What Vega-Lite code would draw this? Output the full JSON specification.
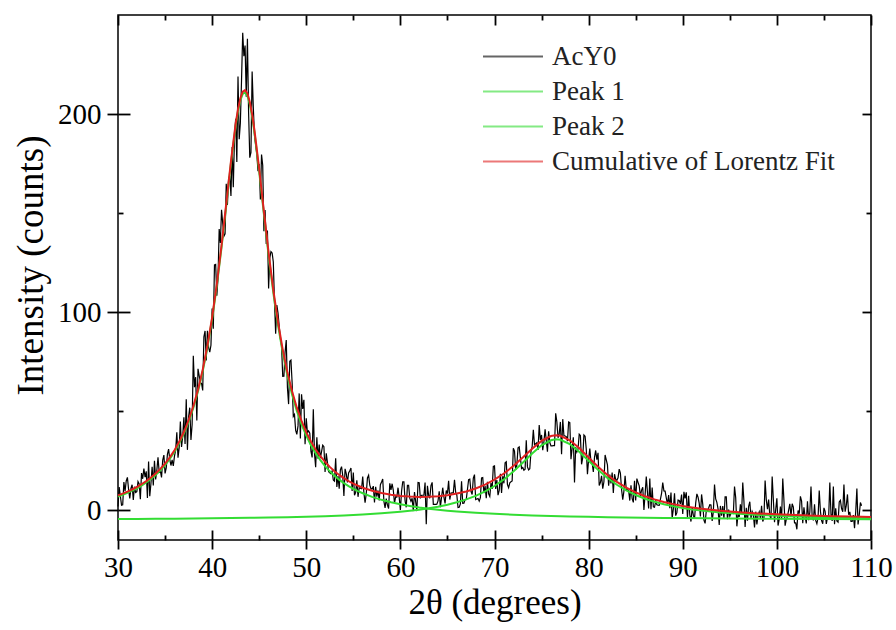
{
"$schema":"https://vega.github.io/schema/vega-lite/v6.json",
"width":753,"height":525,
"autosize":{"type":"none"},
"padding":{"left":118,"top":15,"right":25,"bottom":90},
"background":"white",
"config":{"font":"Liberation Serif","view":{"stroke":"#000","strokeWidth":1.5},"axis":{"grid":false,"domain":false,"tickColor":"#000","labelColor":"#000","titleColor":"#000","tickWidth":1.8,"labelFont":"Liberation Serif","titleFont":"Liberation Serif","titleFontWeight":"normal","labelFlush":false,"labelOverlap":false}},
"datasets":{
"obs":[{"x":30,"y":1.9},{"x":30.25,"y":7.2},{"x":30.5,"y":2.8},{"x":30.75,"y":9.7},{"x":31,"y":16.6},{"x":31.25,"y":6.0},{"x":31.5,"y":12.9},{"x":31.75,"y":11.9},{"x":32,"y":9.4},{"x":32.25,"y":13.3},{"x":32.5,"y":18.8},{"x":32.75,"y":21.1},{"x":33,"y":19.7},{"x":33.25,"y":24.6},{"x":33.5,"y":13.5},{"x":33.75,"y":12.5},{"x":34,"y":15.6},{"x":34.25,"y":26.7},{"x":34.5,"y":19.9},{"x":34.75,"y":25.3},{"x":35,"y":18.6},{"x":35.25,"y":28.2},{"x":35.5,"y":25.7},{"x":35.75,"y":25.5},{"x":36,"y":27.3},{"x":36.25,"y":39.4},{"x":36.5,"y":31.6},{"x":36.75,"y":32.0},{"x":37,"y":47.0},{"x":37.25,"y":56.0},{"x":37.5,"y":47.0},{"x":37.75,"y":35.5},{"x":38,"y":78.0},{"x":38.25,"y":67.2},{"x":38.5,"y":71.4},{"x":38.75,"y":64.5},{"x":39,"y":60.5},{"x":39.25,"y":90.5},{"x":39.5,"y":90.6},{"x":39.75,"y":79.8},{"x":40,"y":101.9},{"x":40.25,"y":123.9},{"x":40.5,"y":108.3},{"x":40.75,"y":142.0},{"x":41,"y":151.7},{"x":41.25,"y":138.3},{"x":41.5,"y":164.8},{"x":41.75,"y":167.5},{"x":42,"y":158.6},{"x":42.25,"y":163.1},{"x":42.5,"y":197.6},{"x":42.75,"y":219.0},{"x":43,"y":195.5},{"x":43.25,"y":241},{"x":43.5,"y":234.6},{"x":43.75,"y":238},{"x":44,"y":178},{"x":44.25,"y":221.5},{"x":44.5,"y":189.3},{"x":44.75,"y":179.6},{"x":45,"y":174.8},{"x":45.25,"y":179.6},{"x":45.5,"y":140.8},{"x":45.75,"y":134.4},{"x":46,"y":112.0},{"x":46.25,"y":130.6},{"x":46.5,"y":125.3},{"x":46.75,"y":89.1},{"x":47,"y":99.5},{"x":47.25,"y":86.6},{"x":47.5,"y":67.6},{"x":47.75,"y":79.8},{"x":48,"y":62.0},{"x":48.25,"y":75.2},{"x":48.5,"y":64.4},{"x":48.75,"y":48.4},{"x":49,"y":38.3},{"x":49.25,"y":59.0},{"x":49.5,"y":58.6},{"x":49.75,"y":55.8},{"x":50,"y":46.4},{"x":50.25,"y":40.1},{"x":50.5,"y":29.7},{"x":50.75,"y":51},{"x":51,"y":21.7},{"x":51.25,"y":26.0},{"x":51.5,"y":26.3},{"x":51.75,"y":32.9},{"x":52,"y":19.4},{"x":52.25,"y":24.2},{"x":52.5,"y":18.9},{"x":52.75,"y":19.8},{"x":53,"y":14.7},{"x":53.25,"y":11.8},{"x":53.5,"y":10.9},{"x":53.75,"y":22.0},{"x":54,"y":7.2},{"x":54.25,"y":18.5},{"x":54.5,"y":18.8},{"x":54.75,"y":21.3},{"x":55,"y":19.1},{"x":55.25,"y":9.0},{"x":55.5,"y":6.8},{"x":55.75,"y":11.1},{"x":56,"y":17.0},{"x":56.25,"y":3.8},{"x":56.5,"y":16.3},{"x":56.75,"y":12.7},{"x":57,"y":10.7},{"x":57.25,"y":4.0},{"x":57.5,"y":6.9},{"x":57.75,"y":5.0},{"x":58,"y":14.3},{"x":58.25,"y":4.5},{"x":58.5,"y":5.9},{"x":58.75,"y":0.9},{"x":59,"y":10.3},{"x":59.25,"y":10.1},{"x":59.5,"y":6.8},{"x":59.75,"y":11.4},{"x":60,"y":0.1},{"x":60.25,"y":14.4},{"x":60.5,"y":4.7},{"x":60.75,"y":12.6},{"x":61,"y":6.1},{"x":61.25,"y":6.1},{"x":61.5,"y":9.2},{"x":61.75,"y":-0.4},{"x":62,"y":13.9},{"x":62.25,"y":7.6},{"x":62.5,"y":7.6},{"x":62.75,"y":-7},{"x":63,"y":7.6},{"x":63.25,"y":12.5},{"x":63.5,"y":3.0},{"x":63.75,"y":3.0},{"x":64,"y":4.7},{"x":64.25,"y":1.6},{"x":64.5,"y":11.4},{"x":64.75,"y":3.5},{"x":65,"y":8.4},{"x":65.25,"y":5.4},{"x":65.5,"y":8.8},{"x":65.75,"y":15.4},{"x":66,"y":7.6},{"x":66.25,"y":1.5},{"x":66.5,"y":14.6},{"x":66.75,"y":3.6},{"x":67,"y":5.5},{"x":67.25,"y":15.5},{"x":67.5,"y":9.5},{"x":67.75,"y":16.2},{"x":68,"y":5.4},{"x":68.25,"y":5.9},{"x":68.5,"y":6.4},{"x":68.75,"y":16.5},{"x":69,"y":12.2},{"x":69.25,"y":14.4},{"x":69.5,"y":7.0},{"x":69.75,"y":10.8},{"x":70,"y":22.4},{"x":70.25,"y":15.2},{"x":70.5,"y":10.0},{"x":70.75,"y":8.8},{"x":71,"y":13.6},{"x":71.25,"y":24.5},{"x":71.5,"y":11.4},{"x":71.75,"y":14.4},{"x":72,"y":31.3},{"x":72.25,"y":20.4},{"x":72.5,"y":31.5},{"x":72.75,"y":26.5},{"x":73,"y":21.6},{"x":73.25,"y":20.7},{"x":73.5,"y":21.9},{"x":73.75,"y":21.0},{"x":74,"y":32.1},{"x":74.25,"y":33.1},{"x":74.5,"y":34.1},{"x":74.75,"y":43.0},{"x":75,"y":38.0},{"x":75.25,"y":34.6},{"x":75.5,"y":35.3},{"x":75.75,"y":39.9},{"x":76,"y":32.5},{"x":76.25,"y":32.6},{"x":76.5,"y":49},{"x":76.75,"y":36.6},{"x":77,"y":44.6},{"x":77.25,"y":46.0},{"x":77.5,"y":37.5},{"x":77.75,"y":34.9},{"x":78,"y":44.3},{"x":78.25,"y":31.3},{"x":78.5,"y":14},{"x":78.75,"y":29.4},{"x":79,"y":38.4},{"x":79.25,"y":23.2},{"x":79.5,"y":38.0},{"x":79.75,"y":30.8},{"x":80,"y":25.7},{"x":80.25,"y":24.5},{"x":80.5,"y":19.3},{"x":80.75,"y":30.2},{"x":81,"y":29.0},{"x":81.25,"y":14.0},{"x":81.5,"y":10.9},{"x":81.75,"y":27.9},{"x":82,"y":22.9},{"x":82.25,"y":18.0},{"x":82.5,"y":19.1},{"x":82.75,"y":18.2},{"x":83,"y":15.1},{"x":83.25,"y":20.8},{"x":83.5,"y":10.5},{"x":83.75,"y":9.7},{"x":84,"y":10.6},{"x":84.25,"y":10.0},{"x":84.5,"y":12.6},{"x":84.75,"y":4.0},{"x":85,"y":5.0},{"x":85.25,"y":14.1},{"x":85.5,"y":7.3},{"x":85.75,"y":11.6},{"x":86,"y":7.9},{"x":86.25,"y":9.1},{"x":86.5,"y":16},{"x":86.75,"y":11.5},{"x":87,"y":1.5},{"x":87.25,"y":2.8},{"x":87.5,"y":2.5},{"x":87.75,"y":8.5},{"x":88,"y":9.8},{"x":88.25,"y":6.3},{"x":88.5,"y":7.7},{"x":88.75,"y":9.0},{"x":89,"y":0.7},{"x":89.25,"y":-2.7},{"x":89.5,"y":5.1},{"x":89.75,"y":3.2},{"x":90,"y":-1.8},{"x":90.25,"y":6.0},{"x":90.5,"y":-3.8},{"x":90.75,"y":-2.4},{"x":91,"y":1.5},{"x":91.25,"y":-4.3},{"x":91.5,"y":8.3},{"x":91.75,"y":3.5},{"x":92,"y":8.0},{"x":92.25,"y":-5.0},{"x":92.5,"y":-0.3},{"x":92.75,"y":1.2},{"x":93,"y":2.7},{"x":93.25,"y":-0.7},{"x":93.5,"y":5.7},{"x":93.75,"y":0.7},{"x":94,"y":2.2},{"x":94.25,"y":2.1},{"x":94.5,"y":6.8},{"x":94.75,"y":-4.5},{"x":95,"y":-3.0},{"x":95.25,"y":-1.5},{"x":95.5,"y":12},{"x":95.75,"y":-8.1},{"x":96,"y":-3.4},{"x":96.25,"y":-1.9},{"x":96.5,"y":4.5},{"x":96.75,"y":1.2},{"x":97,"y":2.0},{"x":97.25,"y":-4},{"x":97.5,"y":-2.2},{"x":97.75,"y":-0.7},{"x":98,"y":-2.4},{"x":98.25,"y":-4.0},{"x":98.5,"y":-5.7},{"x":98.75,"y":15},{"x":99,"y":0.6},{"x":99.25,"y":-2.7},{"x":99.5,"y":17},{"x":99.75,"y":-6.0},{"x":100,"y":6},{"x":100.25,"y":-4.5},{"x":100.5,"y":-4.5},{"x":100.75,"y":5.0},{"x":101,"y":-4.6},{"x":101.25,"y":0.1},{"x":101.5,"y":-3},{"x":101.75,"y":1.6},{"x":102,"y":-6.4},{"x":102.25,"y":-0.1},{"x":102.5,"y":7},{"x":102.75,"y":-6.5},{"x":103,"y":-3.4},{"x":103.25,"y":4.6},{"x":103.5,"y":-1},{"x":103.75,"y":-3.5},{"x":104,"y":3},{"x":104.25,"y":-6.8},{"x":104.5,"y":10},{"x":104.75,"y":-5.2},{"x":105,"y":1.2},{"x":105.25,"y":-6.9},{"x":105.5,"y":-3.7},{"x":105.75,"y":-2.1},{"x":106,"y":12},{"x":106.25,"y":1.0},{"x":106.5,"y":-6},{"x":106.75,"y":5},{"x":107,"y":-0.7},{"x":107.25,"y":-0.7},{"x":107.5,"y":8},{"x":107.75,"y":-0.8},{"x":108,"y":-5.6},{"x":108.25,"y":-9},{"x":108.5,"y":11},{"x":108.75,"y":-2.4},{"x":109,"y":2.3},
{"x":30.125,"y":11.7},{"x":30.375,"y":2.6},{"x":30.625,"y":14.3},{"x":30.875,"y":14.8},{"x":31.125,"y":10.5},{"x":31.375,"y":11.0},{"x":31.625,"y":5.2},{"x":31.875,"y":9.0},{"x":32.125,"y":14.5},{"x":32.375,"y":5.6},{"x":32.625,"y":15.9},{"x":32.875,"y":16.7},{"x":33.125,"y":6.2},{"x":33.375,"y":7.1},{"x":33.625,"y":22.0},{"x":33.875,"y":25.0},{"x":34.125,"y":20.1},{"x":34.375,"y":19.3},{"x":34.625,"y":16.6},{"x":34.875,"y":27.9},{"x":35.125,"y":21.4},{"x":35.375,"y":30.9},{"x":35.625,"y":22.6},{"x":35.875,"y":22.4},{"x":36.125,"y":30.4},{"x":36.375,"y":26.5},{"x":36.625,"y":44.8},{"x":36.875,"y":37.3},{"x":37.125,"y":33.5},{"x":37.375,"y":30.5},{"x":37.625,"y":51.8},{"x":37.875,"y":43.3},{"x":38.125,"y":62.1},{"x":38.375,"y":45.3},{"x":38.625,"y":67.9},{"x":38.875,"y":64.0},{"x":39.125,"y":87.5},{"x":39.375,"y":75.6},{"x":39.625,"y":82.2},{"x":39.875,"y":83.3},{"x":40.125,"y":91.6},{"x":40.375,"y":124.1},{"x":40.625,"y":117.2},{"x":40.875,"y":134.9},{"x":41.125,"y":145.0},{"x":41.375,"y":139.5},{"x":41.625,"y":154.1},{"x":41.875,"y":168.8},{"x":42.125,"y":183.4},{"x":42.375,"y":187.9},{"x":42.625,"y":175.8},{"x":42.875,"y":187.3},{"x":43.125,"y":217.2},{"x":43.375,"y":229.2},{"x":43.625,"y":208.8},{"x":43.875,"y":200.8},{"x":44.125,"y":180.6},{"x":44.375,"y":203.4},{"x":44.625,"y":184.4},{"x":44.875,"y":171.2},{"x":45.125,"y":156.9},{"x":45.375,"y":174.2},{"x":45.625,"y":151.6},{"x":45.875,"y":141.2},{"x":46.125,"y":127.3},{"x":46.375,"y":129.9},{"x":46.625,"y":105.2},{"x":46.875,"y":103.6},{"x":47.125,"y":93.0},{"x":47.375,"y":83.1},{"x":47.625,"y":67.7},{"x":47.875,"y":85.9},{"x":48.125,"y":53.6},{"x":48.375,"y":75.8},{"x":48.625,"y":47.4},{"x":48.875,"y":40.3},{"x":49.125,"y":42.6},{"x":49.375,"y":36.3},{"x":49.625,"y":51.2},{"x":49.875,"y":33.3},{"x":50.125,"y":39.2},{"x":50.375,"y":38.9},{"x":50.625,"y":26.7},{"x":50.875,"y":28.7},{"x":51.125,"y":36.9},{"x":51.375,"y":33.2},{"x":51.625,"y":29.6},{"x":51.875,"y":32.1},{"x":52.125,"y":28.8},{"x":52.375,"y":19.5},{"x":52.625,"y":18.4},{"x":52.875,"y":15.3},{"x":53.125,"y":26.3},{"x":53.375,"y":17.3},{"x":53.625,"y":20.4},{"x":53.875,"y":17.6},{"x":54.125,"y":20.9},{"x":54.375,"y":14.1},{"x":54.625,"y":20.0},{"x":54.875,"y":9.8},{"x":55.125,"y":7.6},{"x":55.375,"y":15.1},{"x":55.625,"y":11.4},{"x":55.875,"y":10.9},{"x":56.125,"y":8.8},{"x":56.375,"y":8.4},{"x":56.625,"y":17.7},{"x":56.875,"y":10.9},{"x":57.125,"y":12.2},{"x":57.375,"y":11.9},{"x":57.625,"y":10.0},{"x":57.875,"y":12.9},{"x":58.125,"y":15.8},{"x":58.375,"y":1.2},{"x":58.625,"y":2.6},{"x":58.875,"y":13.6},{"x":59.125,"y":13.4},{"x":59.375,"y":3.6},{"x":59.625,"y":6.7},{"x":59.875,"y":6.5},{"x":60.125,"y":9.6},{"x":60.375,"y":14.4},{"x":60.625,"y":1.5},{"x":60.875,"y":12.6},{"x":61.125,"y":4.5},{"x":61.375,"y":-0.4},{"x":61.625,"y":4.4},{"x":61.875,"y":14.0},{"x":62.125,"y":6.0},{"x":62.375,"y":7.6},{"x":62.625,"y":14.0},{"x":62.875,"y":12.4},{"x":63.125,"y":6.1},{"x":63.375,"y":14.1},{"x":63.625,"y":3.0},{"x":63.875,"y":3.1},{"x":64.125,"y":9.6},{"x":64.375,"y":6.5},{"x":64.625,"y":6.6},{"x":64.875,"y":10.0},{"x":65.125,"y":14.9},{"x":65.375,"y":8.7},{"x":65.625,"y":8.9},{"x":65.875,"y":9.1},{"x":66.125,"y":1.4},{"x":66.375,"y":3.2},{"x":66.625,"y":3.5},{"x":66.875,"y":5.4},{"x":67.125,"y":10.5},{"x":67.375,"y":15.7},{"x":67.625,"y":8.0},{"x":67.875,"y":18.0},{"x":68.125,"y":5.7},{"x":68.375,"y":4.6},{"x":68.625,"y":16.3},{"x":68.875,"y":8.7},{"x":69.125,"y":6.1},{"x":69.375,"y":8.3},{"x":69.625,"y":13.7},{"x":69.875,"y":22.1},{"x":70.125,"y":10.8},{"x":70.375,"y":7.6},{"x":70.625,"y":18.4},{"x":70.875,"y":17.2},{"x":71.125,"y":24.0},{"x":71.375,"y":13.0},{"x":71.625,"y":13.9},{"x":71.875,"y":14.8},{"x":72.125,"y":29.9},{"x":72.375,"y":22.9},{"x":72.625,"y":32.0},{"x":72.875,"y":21.1},{"x":73.125,"y":20.2},{"x":73.375,"y":35.3},{"x":73.625,"y":20.4},{"x":73.875,"y":29.6},{"x":74.125,"y":40.6},{"x":74.375,"y":33.6},{"x":74.625,"y":30.5},{"x":74.875,"y":35.5},{"x":75.125,"y":30.3},{"x":75.375,"y":40.9},{"x":75.625,"y":29.6},{"x":75.875,"y":34.2},{"x":76.125,"y":32.5},{"x":76.375,"y":32.6},{"x":76.625,"y":44.6},{"x":76.875,"y":38.6},{"x":77.125,"y":28.3},{"x":77.375,"y":37.7},{"x":77.625,"y":37.2},{"x":77.875,"y":44.6},{"x":78.125,"y":25.8},{"x":78.375,"y":36.8},{"x":78.625,"y":31.9},{"x":78.875,"y":30.9},{"x":79.125,"y":37.8},{"x":79.375,"y":26.6},{"x":79.625,"y":37.4},{"x":79.875,"y":18.2},{"x":80.125,"y":31.1},{"x":80.375,"y":23.9},{"x":80.625,"y":26.7},{"x":80.875,"y":25.6},{"x":81.125,"y":12.5},{"x":81.375,"y":17.4},{"x":81.625,"y":14.4},{"x":81.875,"y":25.4},{"x":82.125,"y":12.4},{"x":82.375,"y":13.5},{"x":82.625,"y":8.7},{"x":82.875,"y":15.6},{"x":83.125,"y":16.4},{"x":83.375,"y":18.8},{"x":83.625,"y":5.3},{"x":83.875,"y":17.4},{"x":84.125,"y":10.3},{"x":84.375,"y":4.9},{"x":84.625,"y":5.9},{"x":84.875,"y":14.9},{"x":85.125,"y":16.0},{"x":85.375,"y":12.3},{"x":85.625,"y":10.2},{"x":85.875,"y":0.2},{"x":86.125,"y":17},{"x":86.375,"y":0.9},{"x":86.625,"y":0.5},{"x":86.875,"y":1.7},{"x":87.125,"y":4.6},{"x":87.375,"y":2.6},{"x":87.625,"y":5.5},{"x":87.875,"y":14},{"x":88.125,"y":9.7},{"x":88.375,"y":3.0},{"x":88.625,"y":1.1},{"x":88.875,"y":-4.0},{"x":89.125,"y":8.6},{"x":89.375,"y":-1.2},{"x":89.625,"y":4.9},{"x":89.875,"y":7.9},{"x":90.125,"y":9.3},{"x":90.375,"y":9.1},{"x":90.625,"y":7.3},{"x":90.875,"y":-5.7},{"x":91.125,"y":-2.6},{"x":91.375,"y":3.6},{"x":91.625,"y":6.6},{"x":91.875,"y":-3.1},{"x":92.125,"y":3.1},{"x":92.375,"y":-6.6},{"x":92.625,"y":-0.3},{"x":92.875,"y":2.8},{"x":93.125,"y":-5.4},{"x":93.375,"y":13},{"x":93.625,"y":4.0},{"x":93.875,"y":-7.4},{"x":94.125,"y":-2.7},{"x":94.375,"y":-4.4},{"x":94.625,"y":6.8},{"x":94.875,"y":0.3},{"x":95.125,"y":-1.5},{"x":95.375,"y":-1.6},{"x":95.625,"y":6.4},{"x":95.875,"y":-1.8},{"x":96.125,"y":3.0},{"x":96.375,"y":14},{"x":96.625,"y":-8.4},{"x":96.875,"y":-5.2},{"x":97.125,"y":4.3},{"x":97.375,"y":-0.6},{"x":97.625,"y":-8.7},{"x":97.875,"y":-7.1},{"x":98.125,"y":-0.8},{"x":98.375,"y":2.3},{"x":98.625,"y":-4.1},{"x":98.875,"y":5.4},{"x":99.125,"y":5.4},{"x":99.375,"y":-4.3},{"x":99.625,"y":5.3},{"x":99.875,"y":0.4},{"x":100.125,"y":-7.7},{"x":100.375,"y":1.9},{"x":100.625,"y":16},{"x":100.875,"y":-7.8},{"x":101.125,"y":-3.1},{"x":101.375,"y":3.3},{"x":101.625,"y":3.3},{"x":101.875,"y":-6.4},{"x":102.125,"y":-9.6},{"x":102.375,"y":-1.7},{"x":102.625,"y":4.7},{"x":102.875,"y":1.5},{"x":103.125,"y":-6.6},{"x":103.375,"y":-5.0},{"x":103.625,"y":12},{"x":103.875,"y":-5.1},{"x":104.125,"y":-5.1},{"x":104.375,"y":-3.6},{"x":104.625,"y":-0.4},{"x":104.875,"y":-6.8},{"x":105.125,"y":-0.5},{"x":105.375,"y":-3.7},{"x":105.625,"y":14},{"x":105.875,"y":-5.4},{"x":106.125,"y":-7.0},{"x":106.375,"y":-5.4},{"x":106.625,"y":4.2},{"x":106.875,"y":0.9},{"x":107.125,"y":13},{"x":107.375,"y":2.5},{"x":107.625,"y":-2.3},{"x":107.875,"y":-5.6},{"x":108.125,"y":-2.4},{"x":108.375,"y":-0.8},{"x":108.625,"y":-7.2},{"x":108.875,"y":3.9}],
"p1":[{"x":30,"y":6.91},{"x":30.5,"y":7.8},{"x":31,"y":8.78},{"x":31.5,"y":9.88},{"x":32,"y":11.1},{"x":32.5,"y":12.49},{"x":33,"y":14.05},{"x":33.5,"y":15.82},{"x":34,"y":17.85},{"x":34.5,"y":20.16},{"x":35,"y":22.84},{"x":35.5,"y":25.93},{"x":36,"y":29.54},{"x":36.5,"y":33.76},{"x":37,"y":38.73},{"x":37.5,"y":44.63},{"x":38,"y":51.66},{"x":38.5,"y":60.06},{"x":39,"y":70.13},{"x":39.5,"y":82.2},{"x":40,"y":96.55},{"x":40.5,"y":113.4},{"x":41,"y":132.7},{"x":41.5,"y":153.8},{"x":42,"y":175.1},{"x":42.5,"y":194.0},{"x":42.75,"y":201.4},{"x":43,"y":206.9},{"x":43.25,"y":210.2},{"x":43.5,"y":210.95},{"x":43.75,"y":209.2},{"x":44,"y":205.0},{"x":44.25,"y":198.7},{"x":44.5,"y":190.6},{"x":45,"y":171.0},{"x":45.5,"y":149.5},{"x":46,"y":128.7},{"x":46.5,"y":109.85},{"x":47,"y":93.5},{"x":47.5,"y":79.6},{"x":48,"y":67.97},{"x":48.5,"y":58.27},{"x":49,"y":50.16},{"x":49.5,"y":43.37},{"x":50,"y":37.67},{"x":50.5,"y":32.85},{"x":51,"y":28.77},{"x":51.5,"y":25.27},{"x":52,"y":22.27},{"x":52.5,"y":19.67},{"x":53,"y":17.42},{"x":53.5,"y":15.45},{"x":54,"y":13.72},{"x":54.5,"y":12.2},{"x":55,"y":10.85},{"x":55.5,"y":9.66},{"x":56,"y":8.58},{"x":57,"y":6.75},{"x":58,"y":5.27},{"x":59,"y":4.04},{"x":60,"y":3.02},{"x":61,"y":2.18},{"x":62,"y":1.43},{"x":63,"y":0.81},{"x":64,"y":0.27},{"x":65,"y":-0.2},{"x":66,"y":-0.6},{"x":68,"y":-1.28},{"x":70,"y":-1.81},{"x":72,"y":-2.24},{"x":74,"y":-2.58},{"x":76,"y":-2.87},{"x":78,"y":-3.11},{"x":80,"y":-3.31},{"x":82,"y":-3.48},{"x":84,"y":-3.62},{"x":86,"y":-3.75},{"x":88,"y":-3.86},{"x":90,"y":-3.95},{"x":95,"y":-4.15},{"x":100,"y":-4.29},{"x":105,"y":-4.4},{"x":110,"y":-4.49}],
"p2":[{"x":30,"y":-4.41},{"x":32,"y":-4.36},{"x":34,"y":-4.3},{"x":36,"y":-4.23},{"x":38,"y":-4.14},{"x":40,"y":-4.05},{"x":42,"y":-3.94},{"x":44,"y":-3.81},{"x":46,"y":-3.66},{"x":48,"y":-3.47},{"x":50,"y":-3.24},{"x":52,"y":-2.96},{"x":54,"y":-2.6},{"x":56,"y":-2.14},{"x":58,"y":-1.55},{"x":60,"y":-0.76},{"x":61,"y":-0.27},{"x":62,"y":0.31},{"x":63,"y":1.0},{"x":64,"y":1.83},{"x":65,"y":2.82},{"x":66,"y":4.03},{"x":67,"y":5.5},{"x":68,"y":7.3},{"x":69,"y":9.52},{"x":70,"y":12.25},{"x":71,"y":15.58},{"x":72,"y":19.53},{"x":73,"y":24.02},{"x":74,"y":28.67},{"x":75,"y":32.77},{"x":76,"y":35.34},{"x":76.5,"y":35.8},{"x":77,"y":35.6},{"x":78,"y":33.44},{"x":79,"y":29.57},{"x":80,"y":24.96},{"x":81,"y":20.4},{"x":82,"y":16.33},{"x":83,"y":12.87},{"x":84,"y":10.03},{"x":85,"y":7.71},{"x":86,"y":5.83},{"x":87,"y":4.3},{"x":88,"y":3.05},{"x":89,"y":2.01},{"x":90,"y":1.16},{"x":91,"y":0.44},{"x":92,"y":-0.16},{"x":94,"y":-1.11},{"x":96,"y":-1.81},{"x":98,"y":-2.34},{"x":100,"y":-2.75},{"x":102,"y":-3.08},{"x":104,"y":-3.34},{"x":106,"y":-3.55},{"x":108,"y":-3.72},{"x":110,"y":-3.87}],
"cum":[{"x":30,"y":7.5},{"x":30.5,"y":8.4},{"x":31,"y":9.4},{"x":31.5,"y":10.5},{"x":32,"y":11.75},{"x":32.5,"y":13.15},{"x":33,"y":14.7},{"x":33.5,"y":16.5},{"x":34,"y":18.55},{"x":34.5,"y":20.9},{"x":35,"y":23.6},{"x":35.5,"y":26.7},{"x":36,"y":30.3},{"x":36.5,"y":34.55},{"x":37,"y":39.5},{"x":37.5,"y":45.5},{"x":38,"y":52.5},{"x":38.5,"y":60.9},{"x":39,"y":71.0},{"x":39.5,"y":83.1},{"x":40,"y":97.4},{"x":40.5,"y":114.3},{"x":41,"y":133.7},{"x":41.5,"y":154.8},{"x":42,"y":176.1},{"x":42.5,"y":195.1},{"x":42.75,"y":202.5},{"x":43,"y":208.0},{"x":43.25,"y":211.3},{"x":43.5,"y":212.1},{"x":43.75,"y":210.4},{"x":44,"y":206.2},{"x":44.25,"y":199.9},{"x":44.5,"y":191.8},{"x":45,"y":172.3},{"x":45.5,"y":150.8},{"x":46,"y":130.0},{"x":46.5,"y":111.25},{"x":47,"y":95.0},{"x":47.5,"y":81.1},{"x":48,"y":69.5},{"x":48.5,"y":59.9},{"x":49,"y":51.8},{"x":49.5,"y":45.1},{"x":50,"y":39.4},{"x":50.5,"y":34.7},{"x":51,"y":30.7},{"x":51.5,"y":27.3},{"x":52,"y":24.4},{"x":52.5,"y":21.9},{"x":53,"y":19.7},{"x":53.5,"y":17.85},{"x":54,"y":16.2},{"x":54.5,"y":14.75},{"x":55,"y":13.5},{"x":55.5,"y":12.4},{"x":56,"y":11.4},{"x":57,"y":9.9},{"x":58,"y":8.7},{"x":59,"y":7.85},{"x":60,"y":7.26},{"x":61,"y":6.9},{"x":62,"y":6.74},{"x":63,"y":6.8},{"x":64,"y":7.1},{"x":65,"y":7.6},{"x":66,"y":8.43},{"x":67,"y":9.5},{"x":68,"y":11.0},{"x":69,"y":12.96},{"x":70,"y":15.44},{"x":71,"y":18.55},{"x":72,"y":22.3},{"x":73,"y":26.6},{"x":74,"y":31.1},{"x":75,"y":35.0},{"x":76,"y":37.5},{"x":76.5,"y":37.9},{"x":77,"y":37.6},{"x":78,"y":35.3},{"x":79,"y":31.4},{"x":80,"y":26.65},{"x":81,"y":22.0},{"x":82,"y":17.85},{"x":83,"y":14.3},{"x":84,"y":11.4},{"x":85,"y":9.0},{"x":86,"y":7.1},{"x":87,"y":5.5},{"x":88,"y":4.2},{"x":89,"y":3.1},{"x":90,"y":2.2},{"x":91,"y":1.45},{"x":92,"y":0.8},{"x":94,"y":-0.2},{"x":96,"y":-1.0},{"x":98,"y":-1.57},{"x":100,"y":-2.04},{"x":102,"y":-2.42},{"x":104,"y":-2.72},{"x":106,"y":-2.97},{"x":108,"y":-3.18},{"x":110,"y":-3.36}]
},
"resolve":{"axis":{"x":"independent","y":"independent"}},
"layer":[
{"data":{"name":"obs"},"mark":{"type":"line","strokeWidth":1.2},
 "encoding":{
  "x":{"field":"x","type":"quantitative","scale":{"domain":[30,110],"nice":false,"zero":false},
   "axis":{"orient":"bottom","values":[30,40,50,60,70,80,90,100,110],"tickSize":9,"labelFontSize":29,"labelPadding":4,"title":"2θ (degrees)","titleFontSize":35,"titlePadding":3}},
  "y":{"field":"y","type":"quantitative","scale":{"domain":[-15,250],"nice":false,"zero":false},
   "axis":{"orient":"left","values":[0,100,200],"tickSize":11,"labelFontSize":29,"labelPadding":6,"title":"Intensity (counts)","titleFontSize":37,"titlePadding":7,"titleY":250}},
  "color":{"datum":"AcY0","type":"nominal",
   "scale":{"domain":["AcY0","Peak 1","Peak 2","Cumulative of Lorentz Fit"],"range":["#000000","#33dd33","#33dd33","#e02020"]},
   "legend":{"orient":"none","legendX":364,"legendY":24,"title":null,"symbolType":"stroke","symbolSize":3600,"symbolStrokeWidth":2,"symbolOpacity":0.6,"labelFontSize":27,"labelFont":"Liberation Serif","labelColor":"#222","labelLimit":600,"clipHeight":35,"rowPadding":0,"labelOffset":8,"padding":0}}
 }},
{"data":{"name":"p1"},"mark":{"type":"line","strokeWidth":2},
 "encoding":{
  "x":{"field":"x","type":"quantitative",
   "axis":{"orient":"top","values":[30,40,50,60,70,80,90,100,110],"tickSize":-10,"labels":false,"title":null}},
  "y":{"field":"y","type":"quantitative",
   "axis":{"orient":"right","values":[0,100,200],"tickSize":-9,"labels":false,"title":null}},
  "color":{"datum":"Peak 1","type":"nominal"}
 }},
{"data":{"name":"p2"},"mark":{"type":"line","strokeWidth":2},
 "encoding":{
  "x":{"field":"x","type":"quantitative",
   "axis":{"orient":"top","values":[35,45,55,65,75,85,95,105],"tickSize":-5,"labels":false,"title":null}},
  "y":{"field":"y","type":"quantitative",
   "axis":{"orient":"right","values":[50,150],"tickSize":-5,"labels":false,"title":null}},
  "color":{"datum":"Peak 2","type":"nominal"}
 }},
{"data":{"name":"cum"},"mark":{"type":"line","opacity":0},
 "encoding":{
  "x":{"field":"x","type":"quantitative",
   "axis":{"orient":"bottom","values":[35,45,55,65,75,85,95,105],"tickSize":-5,"labels":false,"title":null}},
  "y":{"field":"y","type":"quantitative",
   "axis":{"orient":"left","values":[50,150],"tickSize":-5,"labels":false,"title":null}}
 }},
{"data":{"name":"cum"},"mark":{"type":"line","strokeWidth":2},
 "encoding":{
  "x":{"field":"x","type":"quantitative",
   "axis":{"orient":"bottom","values":[30,40,50,60,70,80,90,100,110],"tickSize":-10,"labels":false,"title":null}},
  "y":{"field":"y","type":"quantitative",
   "axis":{"orient":"left","values":[0,100,200],"tickSize":-12,"labels":false,"title":null}},
  "color":{"datum":"Cumulative of Lorentz Fit","type":"nominal"}
 }}
]
}
